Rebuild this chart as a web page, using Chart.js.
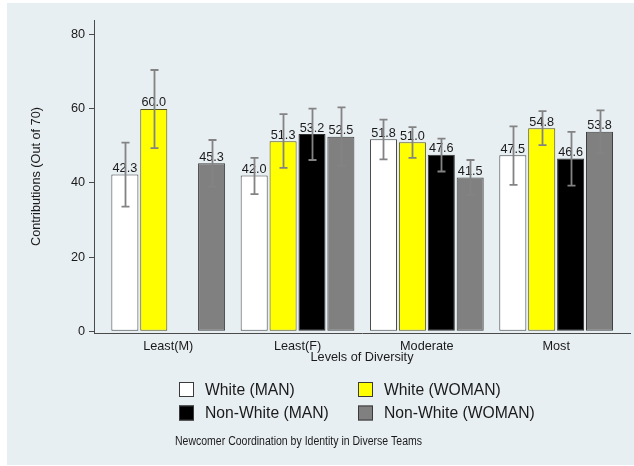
<!DOCTYPE html>
<html>
<head>
<meta charset="utf-8">
<script src="https://cdn.jsdelivr.net/npm/chart.js@4"></script>
<style>
  html, body { margin: 0; padding: 0; background: #ffffff; }
  #wrap { position: relative; width: 634px; height: 466px; }
  #bg { position: absolute; left: 7px; top: 3px; right: 0; bottom: 1px; background: #e8eff2; }
  canvas { position: absolute; left: 0; top: 0; }
</style>
</head>
<body>
<div id="wrap">
  <div id="bg"></div>
  <canvas id="chart" width="634" height="466"></canvas>
</div>
<script>
// Diversity levels on the x axis
const categories = ['Least(M)', 'Least(F)', 'Moderate', 'Most'];
const seriesNames = ['White (MAN)', 'White (WOMAN)', 'Non-White (MAN)', 'Non-White (WOMAN)'];

// Mean contributions with lower / upper confidence limits
const whiteMan      = [42.3, 42.0, 51.8, 47.5];
const whiteManLo    = [33.6, 37.0, 46.4, 39.5];
const whiteManHi    = [50.9, 46.8, 57.1, 55.3];
const whiteWoman    = [60.0, 51.3, 51.0, 54.8];
const whiteWomanLo  = [49.4, 44.1, 46.8, 50.2];
const whiteWomanHi  = [70.5, 58.6, 55.1, 59.4];
const nonWhiteMan   = [null, 53.2, 47.6, 46.6];
const nonWhiteManLo = [null, 46.2, 43.1, 39.3];
const nonWhiteManHi = [null, 60.1, 52.0, 53.8];
const nonWhiteWoman   = [45.3, 52.5, 41.5, 53.8];
const nonWhiteWomanLo = [39.0, 44.6, 36.8, 48.0];
const nonWhiteWomanHi = [51.6, 60.4, 46.2, 59.6];

const yTicks = [0, 20, 40, 60, 80];
const yTitle = 'Contributions (Out of 70)';
const xTitle = 'Levels of Diversity';
const noteText = 'Newcomer Coordination by Identity in Diverse Teams';

const FONT = "'Liberation Sans', Arial, Helvetica, sans-serif";
const TEXT = '#1a1a1a';
const AXIS = '#4a4a4a';

const seriesValues = [whiteMan, whiteWoman, nonWhiteMan, nonWhiteWoman];
const seriesLo = [whiteManLo, whiteWomanLo, nonWhiteManLo, nonWhiteWomanLo];
const seriesHi = [whiteManHi, whiteWomanHi, nonWhiteManHi, nonWhiteWomanHi];
const fills = ['#ffffff', '#ffff00', '#000000', '#808080'];
const edges = ['#4a4a4a', '#55551c', '#303030', '#404040'];

Chart.defaults.font.family = FONT;
Chart.defaults.color = TEXT;

const datasets = seriesValues.map((vals, s) => ({
  label: seriesNames[s],
  data: vals.map((v, i) => ({ x: i, y: v })),
  lo: seriesLo[s],
  hi: seriesHi[s],
  backgroundColor: fills[s],
  borderColor: edges[s],
  borderWidth: 1,
  borderSkipped: false,
  categoryPercentage: 0.894,
  barPercentage: 0.935
}));

// value labels above each bar, then the confidence interval whiskers
const barDecor = {
  id: 'barDecor',
  afterDatasetsDraw(chart) {
    const ctx = chart.ctx;
    const ys = chart.scales.y;
    ctx.save();
    ctx.font = '12.7px ' + FONT;
    ctx.fillStyle = TEXT;
    ctx.textAlign = 'center';
    ctx.textBaseline = 'alphabetic';
    chart.data.datasets.forEach((ds, di) => {
      const meta = chart.getDatasetMeta(di);
      meta.data.forEach((bar, i) => {
        const v = ds.data[i].y;
        if (v == null) return;
        ctx.fillText(v.toFixed(1), bar.x, bar.y - 2.5);
      });
    });
    ctx.strokeStyle = '#838383';
    ctx.lineWidth = 1.8;
    chart.data.datasets.forEach((ds, di) => {
      const meta = chart.getDatasetMeta(di);
      meta.data.forEach((bar, i) => {
        const lo = ds.lo[i], hi = ds.hi[i];
        if (lo == null || hi == null) return;
        const yl = ys.getPixelForValue(lo);
        const yh = ys.getPixelForValue(hi);
        const x = Math.round(bar.x) + 0.5;
        ctx.beginPath();
        ctx.moveTo(x, yl); ctx.lineTo(x, yh);
        ctx.moveTo(x - 4, yl); ctx.lineTo(x + 4, yl);
        ctx.moveTo(x - 4, yh); ctx.lineTo(x + 4, yh);
        ctx.stroke();
      });
    });
    ctx.restore();
  }
};

// two-column key and the note underneath
const keyAndNote = {
  id: 'keyAndNote',
  afterDraw(chart) {
    const ctx = chart.ctx;
    ctx.save();
    const colX = [179, 358];
    const rowY = [382, 405.5];
    ctx.font = '15.7px ' + FONT;
    ctx.textBaseline = 'middle';
    ctx.textAlign = 'left';
    chart.data.datasets.forEach((ds, i) => {
      const x = colX[i % 2];
      const y = rowY[Math.floor(i / 2)];
      ctx.fillStyle = ds.backgroundColor;
      ctx.fillRect(x, y, 15, 15);
      ctx.strokeStyle = '#3a3a3a';
      ctx.lineWidth = 1;
      ctx.strokeRect(x + 0.5, y + 0.5, 14, 14);
      ctx.fillStyle = TEXT;
      ctx.fillText(ds.label, x + 26, y + 8.5);
    });
    ctx.font = '12px ' + FONT;
    ctx.textAlign = 'center';
    const w = ctx.measureText(noteText).width;
    ctx.translate(298.5, 442);
    ctx.scale(247 / w, 1);
    ctx.fillText(noteText, 0, 0);
    ctx.restore();
  }
};

new Chart(document.getElementById('chart'), {
  type: 'bar',
  data: { datasets },
  options: {
    responsive: false,
    animation: false,
    events: [],
    layout: { padding: { left: 0, top: 20, right: 4, bottom: 0 } },
    plugins: { legend: { display: false }, tooltip: { enabled: false } },
    scales: {
      x: {
        type: 'linear',
        min: -0.574,
        max: 3.571,
        offset: false,
        afterBuildTicks(scale) { scale.ticks = categories.map((c, i) => ({ value: i })); },
        afterFit(scale) { scale.height = 133; },
        ticks: {
          autoSkip: false,
          maxRotation: 0,
          padding: 6,
          font: { size: 12.7 },
          color: TEXT,
          callback: (v) => categories[v]
        },
        grid: { display: false, drawTicks: false, offset: false },
        border: { display: true, color: AXIS, width: 1 },
        title: {
          display: true,
          text: xTitle,
          font: { size: 12.7 },
          color: TEXT,
          padding: { top: 0, bottom: 100.9 }
        }
      },
      y: {
        min: -0.5,
        max: 84,
        afterBuildTicks(scale) { scale.ticks = yTicks.map(v => ({ value: v })); },
        afterFit(scale) { scale.width = 94; },
        ticks: { padding: 4, font: { size: 12.7 }, color: TEXT },
        grid: { display: true, drawOnChartArea: false, drawTicks: true, tickLength: 5, color: AXIS },
        border: { display: true, color: AXIS, width: 1 },
        title: {
          display: true,
          text: yTitle,
          font: { size: 12.7 },
          color: TEXT,
          padding: { top: 28.4, bottom: 0 }
        }
      }
    }
  },
  plugins: [barDecor, keyAndNote]
});
</script>
</body>
</html>
